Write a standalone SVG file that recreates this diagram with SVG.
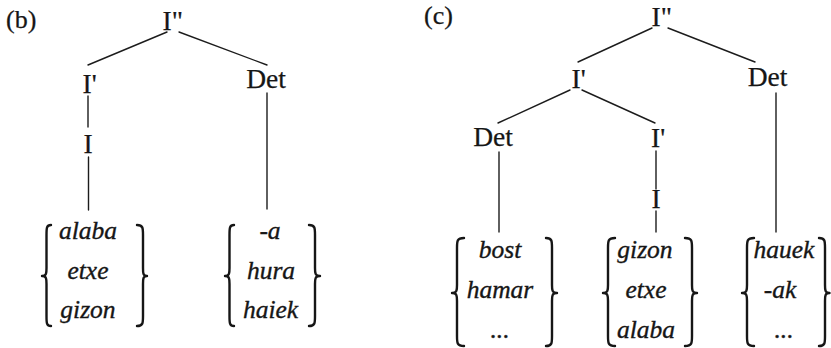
<svg xmlns="http://www.w3.org/2000/svg" width="831" height="348" viewBox="0 0 831 348">
  <style>
    .lbl { font-family: "Liberation Serif", "Times New Roman", serif; font-size: 27.5px; fill: #161616; stroke: #161616; stroke-width: 0.25; }
    .tag { font-family: "Liberation Serif", "Times New Roman", serif; font-size: 26px; fill: #161616; stroke: #161616; stroke-width: 0.25; }
    .word { font-family: "Liberation Serif", "Times New Roman", serif; font-style: italic; font-size: 25.5px; fill: #161616; stroke: #161616; stroke-width: 0.35; text-anchor: middle; }
    .mid { text-anchor: middle; }
    .edge { stroke: #1c1c1c; stroke-width: 1.4; fill: none; stroke-linecap: round; }
    .brace { stroke: #161616; stroke-width: 2.4; fill: none; stroke-linecap: round; stroke-linejoin: round; }
  </style>
  <rect width="831" height="348" fill="#ffffff"/>

  <!-- panel tags -->
  <text class="tag" x="6" y="28">(b)</text>
  <text class="tag" x="424" y="24">(c)</text>

  <g id="connectors">
    <!-- tree (b) -->
    <line class="edge" x1="167" y1="32" x2="88" y2="65"/>
    <line class="edge" x1="179" y1="32" x2="267" y2="65"/>
    <line class="edge" x1="88" y1="96" x2="88" y2="127"/>
    <line class="edge" x1="88.5" y1="157" x2="88.5" y2="210"/>
    <line class="edge" x1="267" y1="93" x2="267" y2="209"/>
    <!-- tree (c) -->
    <line class="edge" x1="652" y1="28" x2="578" y2="62"/>
    <line class="edge" x1="668" y1="28" x2="755" y2="62"/>
    <line class="edge" x1="570" y1="90" x2="498" y2="123"/>
    <line class="edge" x1="582" y1="90" x2="655" y2="123"/>
    <line class="edge" x1="499" y1="152" x2="499" y2="232"/>
    <line class="edge" x1="656" y1="151" x2="656" y2="189"/>
    <line class="edge" x1="656" y1="211" x2="656" y2="232"/>
    <line class="edge" x1="776" y1="93" x2="776" y2="232"/>
  </g>

  <!-- tree (b) nodes -->
  <g id="b-I2"><text class="lbl" x="162.5" y="30">I"</text></g>
  <g id="b-I1"><text class="lbl" x="82.5" y="93">I'</text></g>
  <g id="b-I"><text class="lbl" x="83.5" y="153">I</text></g>
  <g id="b-Det"><text class="lbl mid" x="266" y="88">Det</text></g>

  <g id="b-set-nouns">
    <path class="brace" d="M51,225 C46.5,225 46.5,228 46.5,235 L46.5,268 C46.5,273 46.5,276 42,276 C46.5,276 46.5,279 46.5,284 L46.5,316 C46.5,323 46.5,326 51,326"/>
    <path class="brace" d="M137,225 C143,225 143,228 143,235 L143,268 C143,273 143,276 147,276 C143,276 143,279 143,284 L143,316 C143,323 143,326 137,326"/>
    <text class="word" x="88" y="239">alaba</text>
    <text class="word" x="88" y="279">etxe</text>
    <text class="word" x="88" y="318">gizon</text>
  </g>

  <g id="b-set-dets">
    <path class="brace" d="M234,225 C229.5,225 229.5,228 229.5,235 L229.5,268 C229.5,273 229.5,276 225,276 C229.5,276 229.5,279 229.5,284 L229.5,316 C229.5,323 229.5,326 234,326"/>
    <path class="brace" d="M309,225 C315,225 315,228 315,235 L315,268 C315,273 315,276 320,276 C315,276 315,279 315,284 L315,316 C315,323 315,326 309,326"/>
    <text class="word" x="270" y="239">-a</text>
    <text class="word" x="271" y="279">hura</text>
    <text class="word" x="270.5" y="318">haiek</text>
  </g>

  <!-- tree (c) nodes -->
  <g id="c-I2"><text class="lbl" x="651.5" y="26">I"</text></g>
  <g id="c-I1-top"><text class="lbl" x="571.5" y="88">I'</text></g>
  <g id="c-Det-top"><text class="lbl mid" x="767.5" y="86">Det</text></g>
  <g id="c-Det-low"><text class="lbl mid" x="493" y="146">Det</text></g>
  <g id="c-I1-low"><text class="lbl" x="651" y="147">I'</text></g>
  <g id="c-I"><text class="lbl" x="651.5" y="208">I</text></g>

  <g id="c-set-numerals">
    <path class="brace" d="M464,238 C457,238 457,241 457,248 L457,285 C457,290 457,293 452,293 C457,293 457,296 457,301 L457,336 C457,343 457,346 464,346"/>
    <path class="brace" d="M546,238 C552,238 552,241 552,248 L552,285 C552,290 552,293 557,293 C552,293 552,296 552,301 L552,336 C552,343 552,346 546,346"/>
    <text class="word" x="500" y="258">bost</text>
    <text class="word" x="500" y="298">hamar</text>
    <text class="word" x="500" y="338">...</text>
  </g>

  <g id="c-set-nouns">
    <path class="brace" d="M615,238 C608,238 608,241 608,248 L608,285 C608,290 608,293 603,293 C608,293 608,296 608,301 L608,336 C608,343 608,346 615,346"/>
    <path class="brace" d="M685,238 C692,238 692,241 692,248 L692,285 C692,290 692,293 697,293 C692,293 692,296 692,301 L692,336 C692,343 692,346 685,346"/>
    <text class="word" x="645" y="258">gizon</text>
    <text class="word" x="646" y="298">etxe</text>
    <text class="word" x="646" y="338">alaba</text>
  </g>

  <g id="c-set-dets">
    <path class="brace" d="M754,238 C747,238 747,241 747,248 L747,285 C747,290 747,293 742,293 C747,293 747,296 747,301 L747,336 C747,343 747,346 754,346"/>
    <path class="brace" d="M819,238 C825,238 825,241 825,248 L825,285 C825,290 825,293 829.5,293 C825,293 825,296 825,301 L825,336 C825,343 825,346 819,346"/>
    <text class="word" x="784" y="258">hauek</text>
    <text class="word" x="780" y="298">-ak</text>
    <text class="word" x="784" y="338">...</text>
  </g>
</svg>
